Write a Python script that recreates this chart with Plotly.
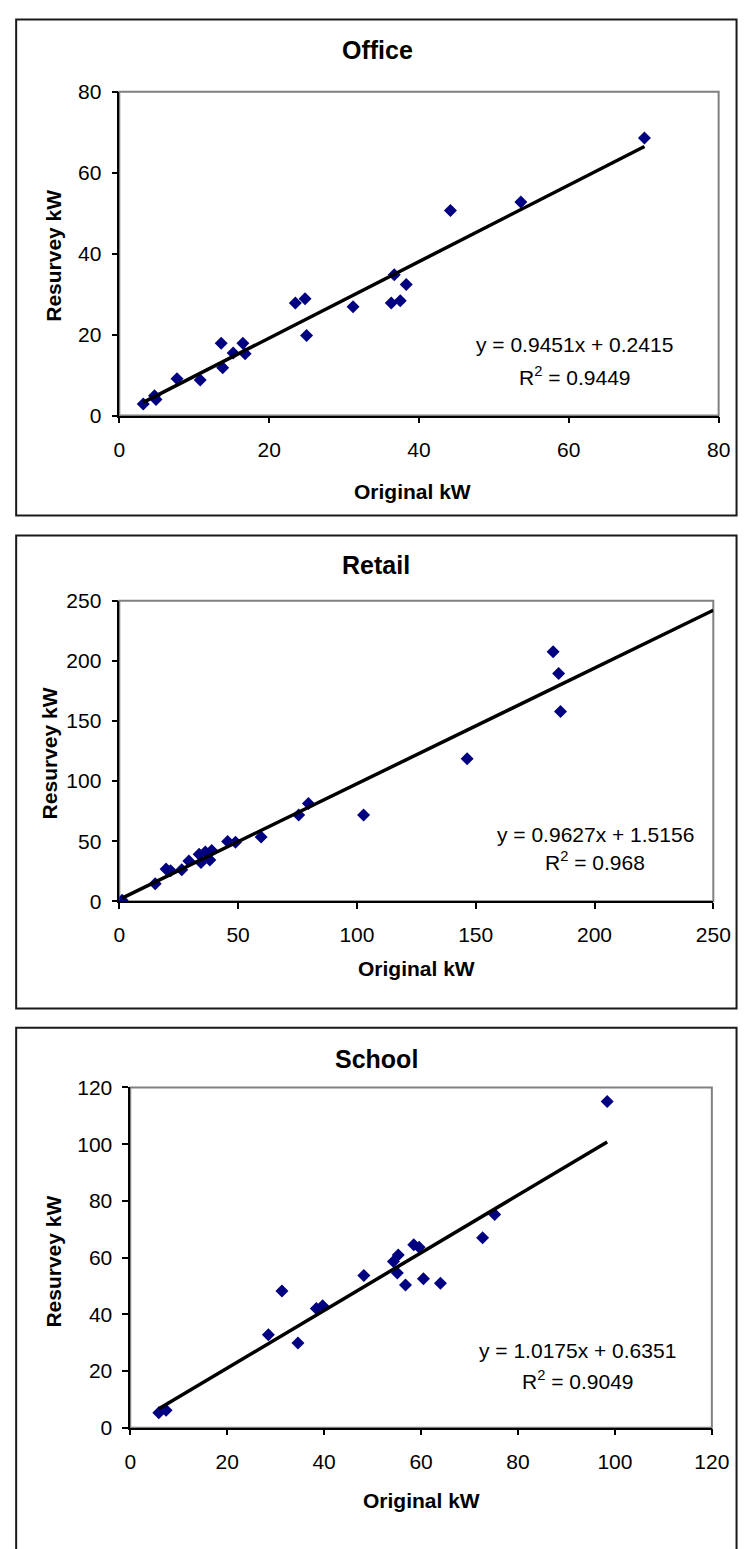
import plotly.graph_objects as go

# ---- Office ----
office_original = [3.2, 4.7, 4.9, 7.7, 10.8, 13.6, 13.8, 15.2, 16.5, 16.8, 23.5,
                   24.8, 25.0, 31.2, 36.3, 36.7, 37.5, 38.3, 44.2, 53.6, 70.1]
office_resurvey = [2.9, 4.9, 4.0, 9.1, 8.8, 17.9, 11.8, 15.5, 17.9, 15.3, 27.8,
                   28.9, 19.8, 26.9, 27.8, 34.8, 28.4, 32.4, 50.7, 52.8, 68.6]
office_fit = (0.9451, 0.2415, 0.9449)

# ---- Retail ----
retail_original = [1.2, 15.1, 19.7, 21.6, 26.3, 29.3, 33.6, 34.4, 36.2, 38.1, 38.9,
                   45.6, 48.9, 59.7, 75.5, 79.6, 102.8, 146.4, 182.6, 184.9, 185.7]
retail_resurvey = [0.8, 14.5, 26.8, 25.4, 26.2, 33.6, 39.1, 32.2, 41.0, 34.4, 42.3,
                   49.7, 49.2, 53.6, 71.9, 81.4, 71.9, 118.6, 207.7, 189.6, 157.9]
retail_fit = (0.9627, 1.5156, 0.968)

# ---- School ----
school_original = [5.9, 7.4, 28.5, 31.3, 34.6, 38.4, 39.7, 48.2, 54.3, 55.1, 55.3,
                   56.8, 58.5, 59.6, 60.5, 64.0, 72.7, 75.2, 98.4]
school_resurvey = [5.3, 6.1, 32.8, 48.2, 29.9, 42.0, 43.0, 53.7, 58.6, 54.6, 60.9,
                   50.3, 64.5, 63.6, 52.5, 50.9, 67.0, 75.2, 115.1]
school_fit = (1.0175, 0.6351, 0.9049)

W, H = 756, 1549
FONT = "Liberation Sans, Arial, sans-serif"


def px(x):
    return x / W


def py(y):
    return 1 - y / H


panels = [
    dict(name="Office", x=office_original, y=office_resurvey, fit=office_fit,
         xmax=80, ymax=80, dtick_x=20, dtick_y=20, extend_to_axis=False,
         plot=(117, 736, 81, 409.7), box=(10.5, 754.5, 7.5, 511),
         title=(383.5, 39), xt=(420, 487), yt=(49, 247),
         eq=(587.5, 338), r2=(587.5, 369)),
    dict(name="Retail", x=retail_original, y=retail_resurvey, fit=retail_fit,
         xmax=250, ymax=250, dtick_x=50, dtick_y=50, extend_to_axis=True,
         plot=(117, 730.5, 597.7, 902.7), box=(10.5, 754.5, 531.5, 1011.5),
         title=(382, 561.5), xt=(423.5, 970.5), yt=(45, 753),
         eq=(608.5, 835), r2=(608.5, 862)),
    dict(name="School", x=school_original, y=school_resurvey, fit=school_fit,
         xmax=120, ymax=120, dtick_x=20, dtick_y=20, extend_to_axis=False,
         plot=(128.3, 729, 1091.7, 1437), box=(10.5, 754.5, 1031, 1570),
         title=(382.5, 1063), xt=(429, 1511), yt=(49, 1268),
         eq=(590.5, 1359), r2=(590.5, 1389)),
]

fig = go.Figure()
shapes, annotations = [], []

for i, p in enumerate(panels, start=1):
    xa = "x" if i == 1 else f"x{i}"
    ya = "y" if i == 1 else f"y{i}"
    slope, intercept, r2 = p["fit"]

    # scatter points
    fig.add_trace(go.Scatter(
        x=p["x"], y=p["y"], mode="markers", xaxis=xa, yaxis=ya,
        marker=dict(symbol="diamond", size=10, color="#000080",
                    line=dict(width=0)),
        showlegend=False, hoverinfo="x+y"))

    # linear trend line from the fitted equation
    x0 = min(p["x"])
    x1 = p["xmax"] if p["extend_to_axis"] else max(p["x"])
    fig.add_trace(go.Scatter(
        x=[x0, x1], y=[slope * x0 + intercept, slope * x1 + intercept],
        mode="lines", xaxis=xa, yaxis=ya,
        line=dict(color="black", width=3.5), showlegend=False, hoverinfo="skip"))

    l, r, t, b = p["plot"]
    axis_common = dict(
        showgrid=False, zeroline=False, showline=True, linecolor="black",
        linewidth=1.5, ticks="outside", ticklen=6, tickwidth=1.5,
        tickcolor="black", tickfont=dict(family=FONT, size=21, color="black"),
        fixedrange=True)
    fig.layout[f"xaxis{'' if i == 1 else i}"] = dict(
        axis_common, domain=[px(l), px(r)], range=[0, p["xmax"]],
        dtick=p["dtick_x"], tick0=0, anchor=ya, ticklabelstandoff=8)
    fig.layout[f"yaxis{'' if i == 1 else i}"] = dict(
        axis_common, domain=[py(b), py(t)], range=[0, p["ymax"]],
        dtick=p["dtick_y"], tick0=0, anchor=xa, ticklabelstandoff=6)

    # plot-area border (grey top/right edges)
    shapes.append(dict(type="rect", xref=f"{xa} domain", yref=f"{ya} domain",
                       x0=0, x1=1, y0=0, y1=1, layer="below",
                       line=dict(color="#808080", width=2)))
    # chart-area frame
    bl, br, bt, bb = p["box"]
    shapes.append(dict(type="rect", xref="paper", yref="paper",
                       x0=px(bl), x1=px(br), y0=py(bb), y1=py(bt),
                       line=dict(color="#1a1a1a", width=2)))

    def ann(text, pos, size, angle=0):
        annotations.append(dict(
            text=text, x=px(pos[0]), y=py(pos[1]), xref="paper", yref="paper",
            xanchor="center", yanchor="middle", showarrow=False,
            textangle=angle, font=dict(family=FONT, size=size, color="black")))

    ann(f"<b>{p['name']}</b>", p["title"], 25)
    ann("<b>Original kW</b>", p["xt"], 21)
    ann("<b>Resurvey kW</b>", p["yt"], 21, angle=-90)
    ann(f"y = {slope:.4f}x + {intercept:.4f}", p["eq"], 21)
    ann(f"R<sup>2</sup> = {r2:g}", p["r2"], 21)

fig.update_layout(
    width=W, height=H, autosize=False,
    margin=dict(l=0, r=0, t=0, b=0, pad=0),
    paper_bgcolor="white", plot_bgcolor="white",
    shapes=shapes, annotations=annotations,
    font=dict(family=FONT, color="black"),
)

fig.write_html("out.html")
